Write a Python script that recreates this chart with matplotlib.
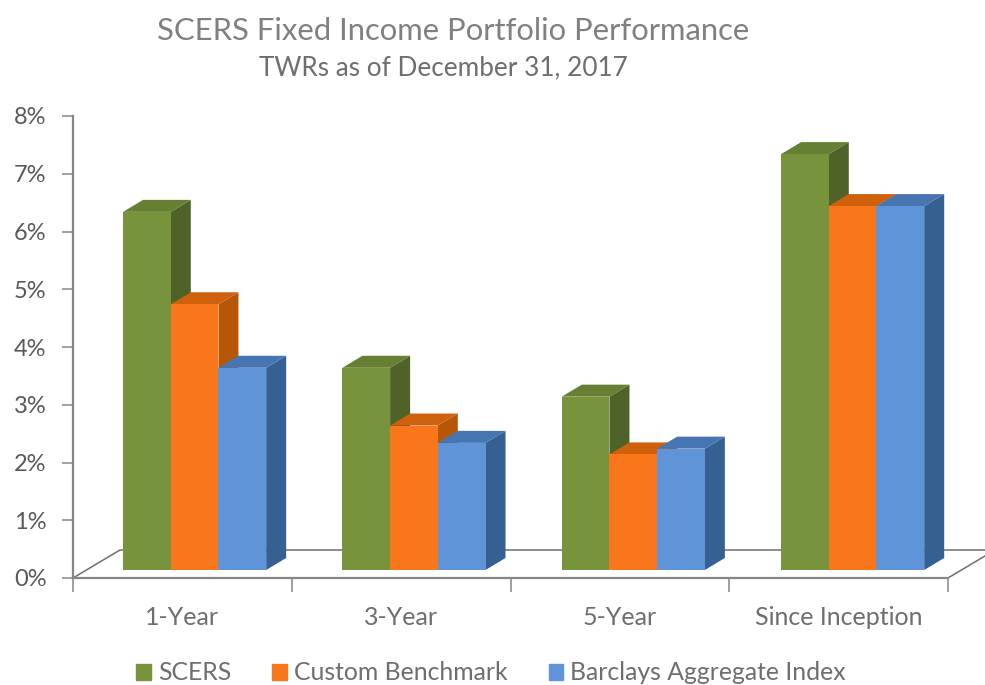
import numpy as np
import matplotlib.pyplot as plt
from matplotlib.patches import Polygon, Patch

# Datos
categorias = ["1-Year", "3-Year", "5-Year", "Since Inception"]
scers = [6.3, 3.6, 3.1, 7.3]
custom = [4.7, 2.6, 2.1, 6.4]
barclays = [3.6, 2.3, 2.2, 6.4]
series = ["SCERS", "Custom Benchmark", "Barclays Aggregate Index"]

# Colores (frente, lado, tapa)
colores = [("#77933C", "#4F6228", "#667F33"),
           ("#F9761A", "#B65708", "#CF600C"),
           ("#5F94D8", "#376092", "#4675B2")]

W, H = 985, 685
fig = plt.figure(figsize=(W / 100, H / 100), dpi=100)
plt.rcParams["font.family"] = ["Lato", "DejaVu Sans"]
ax = fig.add_axes([73 / W, 1 - 578 / H, 875 / W, 462 / H])
ax.set_xlim(-0.5, 3.5)
ax.set_ylim(0, 8)

# Conversion de pixeles a unidades de datos
ux = 4 / 875
uy = 8 / 462
dx, dy = 20 * ux, 12 * uy  # profundidad de cada barra
piso_dx, piso_dy = 47 * ux, 28 * uy
base = 8 * uy
ancho = 47.7 * ux
lift = 0.04
gris = "#868686"

# Piso del grafico 3D
ax.plot([-0.5, -0.5 + piso_dx, 3.5 + piso_dx, 3.5],
        [0, piso_dy, piso_dy, 0], color="#6E6E6E", lw=1.1, clip_on=False, zorder=1)

x = np.arange(len(categorias)) * 1.0027 + 0.056
for j, valores in enumerate([scers, custom, barclays]):
    frente, lado, tapa = colores[j]
    for i, v in enumerate(valores):
        x0 = x[i] + (j - 1.5) * ancho
        x1 = x0 + ancho
        y1 = v + lift
        z = 3 + i * 3 + j
        ax.add_patch(Polygon([(x1, base), (x1 + dx, base + dy), (x1 + dx, y1 + dy), (x1, y1)],
                             fc=lado, ec="none", zorder=z, clip_on=False))
        ax.add_patch(Polygon([(x0, y1), (x0 + dx, y1 + dy), (x1 + dx, y1 + dy), (x1, y1)],
                             fc=tapa, ec="none", zorder=z, clip_on=False))
        ax.bar(x0, y1 - base, ancho, bottom=base, align="edge", color=frente, zorder=z)

# Ejes
for s in ["top", "right"]:
    ax.spines[s].set_visible(False)
for s in ["left", "bottom"]:
    ax.spines[s].set_color(gris)
    ax.spines[s].set_linewidth(1.6)
ax.set_yticks(range(9))
ax.set_yticklabels([f"{i}%" for i in range(9)], fontsize=17, color="#595959")
ax.tick_params(axis="y", length=8, width=1.1, color=gris, pad=11)
ax.set_xticks(range(len(categorias)))
ax.set_xticklabels(categorias, fontsize=18, color="#6E6E6E")
ax.set_xticks(np.arange(5) - 0.5, minor=True)
ax.tick_params(axis="x", which="major", length=0, pad=20)
ax.tick_params(axis="x", which="minor", length=10, width=1.1, color=gris)

fig.text(453.5 / W, 1 - 31 / H, "SCERS Fixed Income Portfolio Performance",
         fontsize=22.3, color="#808080", ha="center", va="center")
fig.text(443 / W, 1 - 68 / H, "TWRs as of December 31, 2017",
         fontsize=18.8, color="#6E6E6E", ha="center", va="center")

handles = [Patch(color=colores[k][0], label=series[k]) for k in range(3)]
fig.legend(handles=handles, ncol=3, loc="center", bbox_to_anchor=(491 / W, 1 - 673 / H),
           frameon=False, fontsize=17.8, labelcolor="#6E6E6E", handlelength=0.6,
           handleheight=0.65, handletextpad=0.28, columnspacing=1.66)

plt.savefig("out.png", dpi=100)
